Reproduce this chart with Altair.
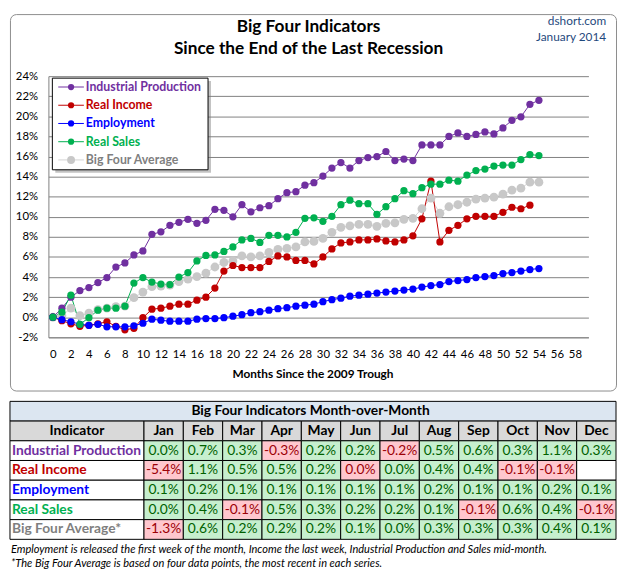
import math
import altair as alt
import pandas as pd

# ---------------- data: cumulative change since the trough (%) ----------------
months_idx = list(range(55))
industrial_production = [0, 0.9, 2.0, 2.65, 2.95, 3.45, 3.95, 5.0, 5.4, 6.2, 6.6, 8.25, 8.5, 9.15, 9.45, 9.75, 9.35, 9.65,
                         10.75, 10.65, 10.0, 11.2, 10.5, 10.9, 11.1, 11.8, 12.4, 12.5, 13.15, 13.4, 14.05, 14.85, 15.4,
                         14.85, 15.6, 15.9, 16.0, 16.5, 15.6, 15.75, 15.6, 17.15, 17.15, 17.15, 18.0, 18.35, 18.0, 18.2,
                         18.45, 18.25, 18.85, 19.6, 19.95, 21.2, 21.6]
real_income = [0, -0.35, -0.65, -0.9, -0.8, -0.65, -0.45, -0.9, -1.25, -1.1, -0.05, 0.8, 0.9, 1.1, 1.3, 1.3, 1.7, 2.0,
               2.9, 4.6, 5.15, 4.95, 4.95, 4.95, 5.55, 6.1, 6.0, 5.65, 5.65, 5.3, 6.0, 6.8, 7.4, 7.5, 7.7, 7.7, 7.8, 7.6,
               7.5, 7.7, 8.1, 9.8, 13.55, 7.5, 8.65, 9.15, 9.8, 10.05, 10.05, 10.05, 10.45, 10.95, 10.8, 11.15]
employment = [0, -0.25, -0.45, -0.7, -0.8, -0.7, -0.95, -0.95, -0.95, -0.85, -0.6, -0.2, -0.3, -0.4, -0.4, -0.4, -0.2,
              -0.13, -0.13, -0.05, 0.1, 0.25, 0.45, 0.55, 0.7, 0.85, 0.95, 1.1, 1.2, 1.3, 1.55, 1.75, 1.9, 2.1, 2.2, 2.3,
              2.4, 2.5, 2.6, 2.7, 2.8, 3.0, 3.15, 3.25, 3.55, 3.65, 3.75, 3.95, 4.05, 4.15, 4.35, 4.45, 4.6, 4.75, 4.85]
real_sales = [0, 0.5, 2.2, -0.7, -0.05, 0.7, 0.9, 0.9, 1.1, 3.4, 3.95, 3.5, 3.3, 3.25, 4.0, 4.45, 5.6, 6.15, 6.2, 6.55,
              7.0, 7.7, 7.85, 7.45, 8.15, 8.15, 8.0, 8.45, 9.85, 9.9, 9.55, 10.05, 11.2, 11.65, 11.3, 11.3, 10.25, 11.0,
              11.8, 12.6, 12.3, 12.9, 13.25, 13.25, 13.65, 13.55, 14.15, 14.6, 14.75, 15.05, 15.15, 15.15, 15.7, 16.2,
              16.1]
big_four_average = [0, 0.15, 0.9, 0.15, 0.4, 0.75, 0.9, 1.05, 1.1, 1.95, 2.5, 3.05, 3.1, 3.2, 3.55, 3.8, 4.05, 4.4, 5.0,
                    5.45, 5.6, 6.1, 6.0, 6.1, 6.45, 6.75, 6.85, 7.0, 7.5, 7.55, 7.85, 8.45, 8.95, 9.1, 9.25, 9.25, 9.05,
                    9.35, 9.4, 9.75, 9.85, 10.8, 11.85, 10.35, 11.0, 11.2, 11.45, 11.75, 11.85, 11.95, 12.25, 12.65,
                    12.85, 13.45, 13.45]

series_names = ["Industrial Production", "Real Income", "Employment", "Real Sales", "Big Four Average"]
series_values = [industrial_production, real_income, employment, real_sales, big_four_average]
point_colors = ["#7030A0", "#C00000", "#0000FF", "#00B050", "#C8C8C8"]
line_colors = ["#7030A0", "#C00000", "#0000FF", "#00B050", "#D4D4D4"]
label_colors = ["#7030A0", "#C00000", "#0000FF", "#00B050", "#7F7F7F"]

x_ticks = list(range(0, 60, 2))
y_ticks = list(range(-2, 26, 2))

# ---------------- data: month-over-month table ----------------
table_months = ["Jan", "Feb", "Mar", "Apr", "May", "Jun", "Jul", "Aug", "Sep", "Oct", "Nov", "Dec"]
table_rows = ["Industrial Production", "Real Income", "Employment", "Real Sales", "Big Four Average*"]
mom_ip = [0.0, 0.7, 0.3, -0.3, 0.2, 0.2, -0.2, 0.5, 0.6, 0.3, 1.1, 0.3]
mom_ri = [-5.4, 1.1, 0.5, 0.5, 0.2, -0.0, 0.0, 0.4, 0.4, -0.1, -0.1, None]
mom_emp = [0.1, 0.2, 0.1, 0.1, 0.1, 0.1, 0.1, 0.2, 0.1, 0.1, 0.2, 0.1]
mom_sales = [0.0, 0.4, -0.1, 0.5, 0.3, 0.2, 0.2, 0.1, -0.1, 0.6, 0.4, -0.1]
mom_avg = [-1.3, 0.6, 0.2, 0.2, 0.2, 0.1, 0.0, 0.3, 0.3, 0.3, 0.4, 0.1]

title_lines = ["Big Four Indicators", "Since the End of the Last Recession"]
source_lines = ["dshort.com", "January  2014"]
table_title = "Big Four Indicators Month-over-Month"
notes = ["Employment is released the first week of the month, Income the last week, Industrial Production and Sales mid-month.",
         "*The Big Four Average is based on four data points, the most recent in each series."]

FONT = "Lato"

# ---------------- long-form frame (average drawn first, sales last) ----------------
draw_order = [4, 0, 1, 2, 3]
rows = []
for i in draw_order:
    for m, v in zip(months_idx, series_values[i]):
        rows.append({"month": m, "value": v, "series": series_names[i]})
df = pd.DataFrame(rows)

W, H = 615, 382
X0, X1 = 39, 587
YB, YT = 328, 63

xs = alt.Scale(domain=[-0.5, 59.5], range=[X0, X1], nice=False, zero=False)
ys = alt.Scale(domain=[-2, 24], range=[YB, YT], nice=False, zero=False)

X = alt.X("month:Q", scale=xs, axis=alt.Axis(
    values=x_ticks, grid=False, ticks=False, domain=True, domainColor="#868686",
    offset=-(H - YB), labelPadding=11, labelFontSize=11.5, labelFont=FONT, labelColor="black",
    labelFlush=False, title="Months Since the 2009 Trough", titleFont=FONT, titleFontSize=12,
    titleFontWeight="bold", titleColor="black", titleX=307, titleY=37, titleBaseline="middle"))
Y = alt.Y("value:Q", scale=ys, axis=alt.Axis(
    values=y_ticks, grid=True, gridColor="#808080", gridWidth=1, ticks=False, domain=True,
    domainColor="#808080", offset=-X0, labelPadding=11, labelFontSize=11.5, labelFont=FONT,
    labelColor="black", labelExpr="datum.value + '%'", title=None))

stroke_scale = alt.Scale(domain=series_names, range=line_colors)
fill_scale = alt.Scale(domain=series_names, range=point_colors)

lines = alt.Chart(df).mark_line(strokeWidth=1).encode(
    x=X, y=Y, stroke=alt.Stroke("series:N", scale=stroke_scale, legend=None), order="month:Q")
pts_avg = alt.Chart(df[df.series == "Big Four Average"]).mark_circle(size=80, opacity=1).encode(
    x=X, y=Y, fill=alt.Fill("series:N", scale=fill_scale, legend=None))
pts = alt.Chart(df[df.series != "Big Four Average"]).mark_circle(size=54, opacity=1).encode(
    x=X, y=Y, fill=alt.Fill("series:N", scale=fill_scale, legend=None))

one = pd.DataFrame({"k": [0]})

# legend (drawn by hand, boxed, with a soft shadow)
LX0, LX1, LY0, LY1 = 43, 201, 65, 158
legend_layers = [
    alt.Chart(one).mark_rect(fill="#7a7a7a", opacity=0.45).encode(
        x=alt.value(LX0 + 3), x2=alt.value(LX1 + 3), y=alt.value(LY0 + 3), y2=alt.value(LY1 + 3)),
    alt.Chart(one).mark_rect(fill="white", stroke="black", strokeWidth=1).encode(
        x=alt.value(LX0), x2=alt.value(LX1), y=alt.value(LY0), y2=alt.value(LY1)),
]
for i, (name, lc, pc, tc) in enumerate(zip(series_names, line_colors, point_colors, label_colors)):
    yy = 74 + i * 18.5
    ldf = pd.DataFrame({"series": [name]})
    legend_layers.append(alt.Chart(ldf).mark_rule(color=lc, strokeWidth=1).encode(
        x=alt.value(49), x2=alt.value(75), y=alt.value(yy)))
    legend_layers.append(alt.Chart(ldf).mark_circle(color=pc, opacity=1, size=64 if i == 4 else 40).encode(
        x=alt.value(62), y=alt.value(yy)))
    legend_layers.append(alt.Chart(ldf).mark_text(font=FONT, fontSize=12.5, fontWeight="bold", color=tc,
                                                  align="left", baseline="middle").encode(
        x=alt.value(77), y=alt.value(yy), text="series:N"))

title_txt = alt.Chart(one).mark_text(font=FONT, fontSize=17.5, fontWeight="bold", color="black",
                                     align="center", baseline="alphabetic", lineHeight=22).encode(
    x=alt.value(303), y=alt.value(18), text=alt.value(title_lines))
source_txt = alt.Chart(one).mark_text(font=FONT, fontSize=12, color="#1F497D", align="right",
                                      baseline="alphabetic", lineHeight=16.5).encode(
    x=alt.value(605), y=alt.value(11), text=alt.value(source_lines))

top = alt.layer(lines, pts_avg, pts, *legend_layers, title_txt, source_txt).properties(
    width=W, height=H,
    view=alt.ViewBackground(stroke="#8c8c8c", strokeWidth=1, cornerRadius=6, fill="white"))

# ---------------- table ----------------
TW, TH = 615, 178
IC = 136
cell_rows = []
for name, vals in zip(table_rows, [mom_ip, mom_ri, mom_emp, mom_sales, mom_avg]):
    for mon, v in zip(table_months, vals):
        if v is None:
            cell_rows.append(dict(indicator=name, month=mon, label="", status="blank"))
        else:
            neg = math.copysign(1.0, v) < 0
            label = "0.0%" if v == 0 else f"{v:.1f}%"
            cell_rows.append(dict(indicator=name, month=mon, label=label, status="neg" if neg else "pos"))
cells = pd.DataFrame(cell_rows)
month_df = pd.DataFrame({"month": table_months})
ind_df = pd.DataFrame({"indicator": table_rows})

xm = alt.Scale(domain=table_months, range=[IC, TW], paddingInner=0, paddingOuter=0)
yr = alt.Scale(domain=table_rows, range=[50, 150], paddingInner=0, paddingOuter=0)
XM = alt.X("month:N", scale=xm, axis=None)
YR = alt.Y("indicator:N", scale=yr, axis=None)

tt_rect = alt.Chart(one).mark_rect(fill="#DCE6F1", stroke="black", strokeWidth=1).encode(
    x=alt.value(0), x2=alt.value(TW), y=alt.value(10), y2=alt.value(30))
tt_txt = alt.Chart(one).mark_text(font=FONT, fontSize=14, fontWeight="bold", color="black").encode(
    x=alt.value(305), y=alt.value(20), text=alt.value(table_title))
hi_rect = alt.Chart(one).mark_rect(fill="#D9D9D9", stroke="black", strokeWidth=1).encode(
    x=alt.value(0), x2=alt.value(IC), y=alt.value(30), y2=alt.value(50))
hi_txt = alt.Chart(one).mark_text(font=FONT, fontSize=14, fontWeight="bold", color="black").encode(
    x=alt.value(IC / 2), y=alt.value(40), text=alt.value("Indicator"))
hm_rect = alt.Chart(month_df).mark_rect(fill="#D9D9D9", stroke="black", strokeWidth=1).encode(
    x=XM, y=alt.value(30), y2=alt.value(50))
hm_txt = alt.Chart(month_df).mark_text(font=FONT, fontSize=14, fontWeight="bold", color="black").encode(
    x=XM, y=alt.value(40), text="month:N")
ind_rect = alt.Chart(ind_df).mark_rect(fill="white", stroke="black", strokeWidth=1).encode(
    x=alt.value(0), x2=alt.value(IC), y=YR)
ind_txt = alt.Chart(ind_df).mark_text(font=FONT, fontSize=14, fontWeight="bold", align="left").encode(
    x=alt.value(2), y=YR, text="indicator:N",
    color=alt.Color("indicator:N", scale=alt.Scale(domain=table_rows, range=label_colors), legend=None))
cell_rect = alt.Chart(cells).mark_rect(stroke="black", strokeWidth=1).encode(
    x=XM, y=YR,
    fill={"condition": [{"test": "datum.status == 'neg'", "value": "#FFC7CE"},
                        {"test": "datum.status == 'blank'", "value": "#FFFFFF"}],
          "value": "#C6EFCE"})
cell_txt = alt.Chart(cells[cells.status != "blank"]).mark_text(font=FONT, fontSize=14).encode(
    x=XM, y=YR, text="label:N",
    color=alt.condition("datum.status == 'neg'", alt.value("#9C0006"), alt.value("#006100")))
note1 = alt.Chart(one).mark_text(font=FONT, fontSize=11.2, fontStyle="italic", align="left", color="black").encode(
    x=alt.value(1), y=alt.value(161), text=alt.value(notes[0]))
note2 = alt.Chart(one).mark_text(font=FONT, fontSize=11.2, fontStyle="italic", align="left", color="black").encode(
    x=alt.value(1), y=alt.value(175), text=alt.value(notes[1]))

table = alt.layer(tt_rect, tt_txt, hi_rect, hi_txt, hm_rect, hm_txt, ind_rect, ind_txt,
                  cell_rect, cell_txt, note1, note2).properties(width=TW, height=TH)

chart = alt.vconcat(top, table, spacing=0).properties(
    padding={"left": 1, "top": 1, "right": 0, "bottom": 0}, background="white"
).configure_view(strokeWidth=0)

chart.save("out.html", embed_options={"renderer": "svg", "actions": False})
